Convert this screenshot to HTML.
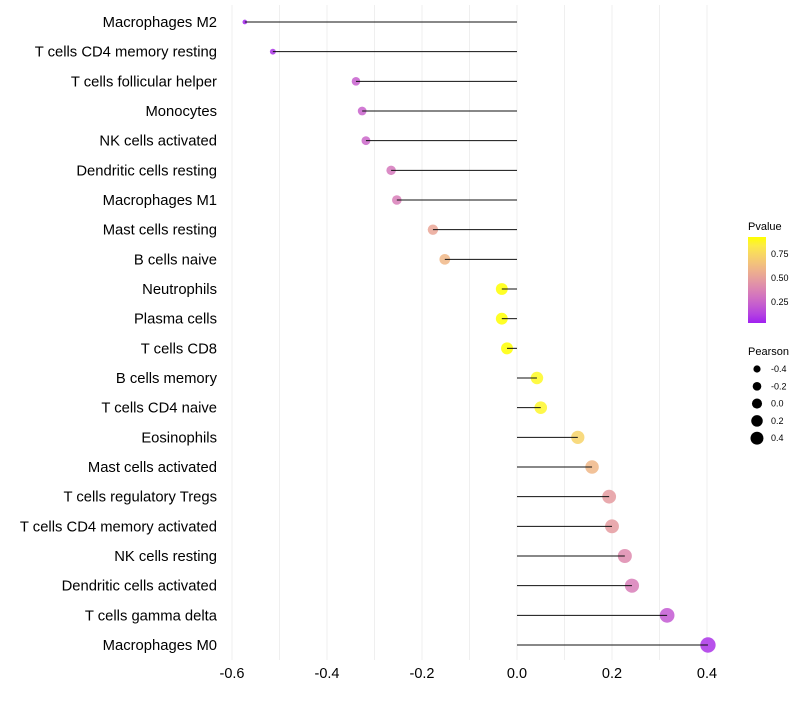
<!DOCTYPE html>
<html><head><meta charset="utf-8"><style>
body{margin:0;background:#fff;font-family:"Liberation Sans",sans-serif}
</style></head><body>
<svg id="chart" width="800" height="700" xmlns="http://www.w3.org/2000/svg" font-family="Liberation Sans, sans-serif">
<defs><linearGradient id="grad" x1="0" y1="1" x2="0" y2="0"></linearGradient></defs>
<g id="grid"></g><g id="points"></g><g id="stems"></g><g id="labels"></g>
<g>
<text x="748" y="230" font-size="11">Pvalue</text>
<rect x="748" y="237" width="18" height="86" fill="url(#grad)"/>
<text x="771" y="257" font-size="9">0.75</text>
<text x="771" y="281" font-size="9">0.50</text>
<text x="771" y="305" font-size="9">0.25</text>
</g>
<g id="sizeLegend">
<text x="748" y="355" font-size="11">Pearson</text>
</g>
</svg>
<script>
const categories=["Macrophages M2","T cells CD4 memory resting","T cells follicular helper","Monocytes","NK cells activated","Dendritic cells resting","Macrophages M1","Mast cells resting","B cells naive","Neutrophils","Plasma cells","T cells CD8","B cells memory","T cells CD4 naive","Eosinophils","Mast cells activated","T cells regulatory  Tregs ","T cells CD4 memory activated","NK cells resting","Dendritic cells activated","T cells gamma delta","Macrophages M0"];
const pearson=[-0.573,-0.514,-0.339,-0.326,-0.318,-0.265,-0.253,-0.177,-0.152,-0.032,-0.032,-0.021,0.042,0.05,0.128,0.158,0.194,0.2,0.227,0.242,0.316,0.402];
const pvalue=[0.17,0.2,0.32,0.33,0.34,0.4,0.42,0.56,0.62,0.88,0.88,0.88,0.86,0.85,0.72,0.62,0.52,0.52,0.46,0.42,0.3,0.2];
const xTicks=[-0.6,-0.4,-0.2,0.0,0.2,0.4];
const sizeLegendValues=[-0.4,-0.2,0.0,0.2,0.4];
const NS="http://www.w3.org/2000/svg";
const x=v=>517+v*475;
const y=i=>22+i*(623/21);
const r=v=>Math.sqrt(Math.max(3,37+55*v));
function toLab(c){let [R,G,B]=c.map(v=>{v/=255;return v>0.04045?Math.pow((v+0.055)/1.055,2.4):v/12.92;});
 let X=(R*0.4124+G*0.3576+B*0.1805)/0.95047,Y=R*0.2126+G*0.7152+B*0.0722,Z=(R*0.0193+G*0.1192+B*0.9505)/1.08883;
 const f=t=>t>0.008856?Math.cbrt(t):7.787*t+16/116;X=f(X);Y=f(Y);Z=f(Z);return [116*Y-16,500*(X-Y),200*(Y-Z)];}
function fromLab(l){let Y=(l[0]+16)/116,X=l[1]/500+Y,Z=Y-l[2]/200;const g=t=>t*t*t>0.008856?t*t*t:(t-16/116)/7.787;
 X=g(X)*0.95047;Y=g(Y);Z=g(Z)*1.08883;
 let R=X*3.2406+Y*-1.5372+Z*-0.4986,G=X*-0.9689+Y*1.8758+Z*0.0415,B=X*0.0557+Y*-0.2040+Z*1.0570;
 return [R,G,B].map(v=>{v=v>0.0031308?1.055*Math.pow(v,1/2.4)-0.055:12.92*v;return Math.round(Math.max(0,Math.min(1,v))*255);});}
const LA=toLab([160,32,240]),LB=toLab([255,255,0]);
function colT(t){t=Math.max(0,Math.min(1,t));const c=fromLab(LA.map((v,k)=>v+(LB[k]-v)*t));return `rgb(${c.join(",")})`;}
const col=p=>colT((p-0.16)/(0.88-0.16));
function mk(tag,at,parent){const e=document.createElementNS(NS,tag);for(const k in at)e.setAttribute(k,at[k]);parent.appendChild(e);return e;}
const grad=document.getElementById('grad');
for(let s=0;s<=10;s++)mk('stop',{offset:s/10,'stop-color':colT(s/10)},grad);
const grid=document.getElementById('grid'),pts=document.getElementById('points'),stems=document.getElementById('stems'),labels=document.getElementById('labels');
for(let k=-6;k<=4;k++){const l=mk('line',{x1:x(k/10),x2:x(k/10),y1:5,y2:660,stroke:'#efefef','stroke-width':1},grid);

}
xTicks.forEach(t=>{const e=mk('text',{x:x(t),y:678,'font-size':14.5,'text-anchor':'middle',fill:'#000'},labels);e.textContent=t.toFixed(1);

});
categories.forEach((c,i)=>{
 const t=mk('text',{x:217,y:y(i)+5,'font-size':14.8,'text-anchor':'end',fill:'#000'},labels);t.textContent=c;
 
 
 const ci=mk('circle',{cx:x(pearson[i]),cy:y(i),r:r(pearson[i]),fill:col(pvalue[i]),'fill-opacity':0.85},pts);
 
 
 const ln=mk('line',{x1:x(0),x2:x(pearson[i]),y1:y(i),y2:y(i),stroke:'#111','stroke-width':1},stems);
 
 
});
const sl=document.getElementById('sizeLegend');
sizeLegendValues.forEach((v,i)=>{const cy=369+i*17.3;
 const c=mk('circle',{cx:757,cy:cy,r:3.6+3.6*(v+0.4),fill:'#000'},sl);
 
 
 const t=mk('text',{x:771,y:cy+3,'font-size':9},sl);t.textContent=v.toFixed(1);
 
 });
</script>
</body></html>
